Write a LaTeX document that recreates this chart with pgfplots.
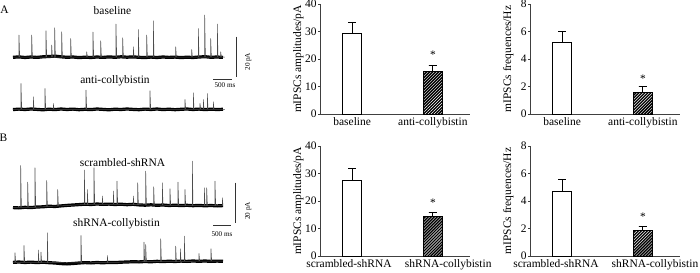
\documentclass[border=0pt]{standalone}
\usepackage{fontspec}
\setmainfont{Liberation Serif}
\usepackage{pgfplots}
\pgfplotsset{compat=1.18}
\usepackage{pgfplotstable}
\usetikzlibrary{patterns}

% baseline (noise band) of the four traces, in pixel coordinates of the reference
\pgfplotstableread{
x   a1   a2    b1    b2
13  57.3 109.6 207.6 262.4
19  56.9 109.1 207.9 262.0
25  57.5 109.5 207.3 262.5
31  57.0 109.0 207.6 262.1
37  57.4 109.4 207.0 262.6
43  56.8 109.8 206.8 262.2
49  56.5 109.2 206.2 262.7
55  56.1 109.6 206.5 263.0
61  56.8 109.0 205.9 263.6
67  57.3 109.5 205.4 263.9
73  57.0 109.1 205.0 263.5
79  57.6 109.7 204.6 263.0
85  57.2 109.3 204.2 262.6
91  57.5 109.6 204.5 262.9
97  57.0 109.0 204.0 262.5
103 57.4 109.4 204.4 262.8
109 56.9 109.8 204.1 262.4
115 57.3 109.2 204.5 262.6
121 56.8 109.5 204.2 262.2
127 57.2 109.0 204.7 262.0
133 56.9 109.4 204.3 261.7
139 57.3 109.7 204.9 261.9
145 57.6 109.1 205.2 261.5
151 57.1 109.5 204.8 261.8
157 57.5 109.0 205.3 261.3
163 57.0 109.6 205.0 261.6
169 57.4 109.2 205.5 261.2
175 57.1 109.7 205.2 261.5
181 57.6 109.3 205.6 261.1
187 57.2 109.0 205.3 261.4
193 57.5 109.5 205.7 261.0
199 57.0 109.1 205.4 261.3
205 56.7 109.6 205.8 261.0
211 57.3 109.2 205.5 261.4
217 57.0 109.5 205.9 261.1
223 57.4 109.3 205.6 261.3
}\basetab

\pgfplotsset{
  barax/.style={
    scale only axis, anchor=south west,
    width=149.3bp, height=110bp,
    xmin=-0.39, xmax=1.46, ymin=0,
    axis lines=left,
    axis line style={-, black!75, line width=0.8bp},
    tick align=outside, major tick length=2.5bp,
    ytick style={black!75, line width=0.8bp},
    xtick style={draw=none},
    /pgf/number format/assume math mode=true,
    yticklabel style={inner sep=1.5bp},
    xticklabel style={inner sep=1.2bp},
    ylabel style={at={(axis description cs:-0.15,0.5)}, anchor=center},
    font=\fontsize{11.5}{13.5}\selectfont,
    clip=false,
  },
  whitebar/.style={draw=black, line width=0.8bp, fill=white, ybar, bar width=19bp, bar shift=0pt},
  hatchbar/.style={draw=black, line width=0.8bp, fill=black,
    postaction={pattern=north east lines, pattern color=white},
    ybar, bar width=19bp, bar shift=0pt},
  errline/.style={black, line width=0.8bp, mark=none},
}

\begin{document}
\begin{tikzpicture}[font=\fontsize{11.5}{13.5}\selectfont]
\useasboundingbox (0,0) rectangle (700bp,273bp);

% ---------------- traces (pixel coordinates, y downwards) ----------------
\begin{axis}[at={(0,0)}, anchor=south west, scale only axis,
  width=260bp, height=273bp, xmin=0, xmax=260, ymin=0, ymax=273,
  y dir=reverse, hide axis, clip=false, no markers]
  % noise bands
  \addplot[black, line width=3.2bp, line join=round] table[x=x, y=a1] {\basetab};
  \addplot[black, line width=3.2bp, line join=round] table[x=x, y=a2] {\basetab};
  \addplot[black, line width=3.2bp, line join=round] table[x=x, y=b1] {\basetab};
  \addplot[black, line width=3.2bp, line join=round] table[x=x, y=b2] {\basetab};
  % events, baseline
  \addplot[black!70, line width=0.5bp] coordinates {
    (13,57.1)
    (19,57.1)(19,35)(19.7,57.1)
    (31.7,57.1)(31.7,35)(32.4,57.1)
    (46,57.1)(46,30.7)(46.7,57.1)
    (51.7,57.1)(51.7,45)(52.4,57.1)
    (54.7,57.1)(54.7,27.7)(55.4,57.1)
    (61.7,57.1)(61.7,31.7)(62.4,57.1)
    (70.7,57.1)(70.7,38.3)(71.4,57.1)
    (86.7,57.1)(86.7,51.7)(87.4,57.1)
    (93,57.1)(93,32)(93.7,57.1)
    (100.7,57.1)(100.7,40.7)(101.4,57.1)
    (116,57.1)(116,24)(116.7,57.1)
    (122.7,57.1)(122.7,37.7)(123.4,57.1)
    (133.3,57.1)(133.3,46.7)(134,57.1)
    (138.3,57.1)(138.3,29.3)(139,57.1)
    (146.7,57.1)(146.7,35)(147.4,57.1)
    (153.3,57.1)(153.3,20.7)(154,57.1)
    (175.7,57.1)(175.7,46.7)(176.4,57.1)
    (191.7,57.1)(191.7,49.3)(192.4,57.1)
    (198.3,57.1)(198.3,28.3)(199,57.1)
    (204.7,57.1)(204.7,15)(205.4,57.1)
    (210.7,57.1)(210.7,38.3)(211.4,57.1)
    (217.3,57.1)(217.3,24)(218,57.1)
    (220.7,57.1)(220.7,51.7)(221.4,57.1)
    (225,57.1)};
  % events, anti-collybistin
  \addplot[black!70, line width=0.5bp] coordinates {
    (13,109.4)
    (21,109.4)(21,83.3)(21.7,109.4)
    (33.3,109.4)(33.3,96.7)(34,109.4)
    (45,109.4)(45,88.3)(45.7,109.4)
    (53.3,109.4)(53.3,103.3)(54,109.4)
    (86,109.4)(86,90)(86.7,109.4)
    (150,109.4)(150,90.7)(150.7,109.4)
    (185,109.4)(185,99.3)(185.7,109.4)
    (193.3,109.4)(193.3,92.7)(194,109.4)
    (200,109.4)(200,103.3)(200.7,109.4)
    (203.3,109.4)(203.3,99.3)(204,109.4)
    (207.3,109.4)(207.3,93.3)(208,109.4)
    (213.3,109.4)(213.3,101.7)(214,109.4)
    (225,109.4)};
  % events, scrambled-shRNA
  \addplot[black!70, line width=0.5bp] coordinates {
    (13,207.3)
    (20.7,207.3)(20.7,165.3)(21.4,207.3)
    (27.7,207.3)(27.7,182)(28.4,207.3)
    (35,207.3)(35,167.7)(35.7,207.3)
    (46.7,206.5)(46.7,180.3)(47.4,206.5)
    (57.7,206)(57.7,189.3)(58.4,206)
    (84.3,204.5)(84.3,170)(85,204.5)
    (87.3,204.5)(87.3,189.3)(88,204.5)
    (94,204.3)(94,167.7)(94.7,204.3)
    (102.3,204.3)(102.3,196)(103,204.3)
    (113.3,204.3)(113.3,191)(114,204.3)
    (117,204.3)(117,181)(117.7,204.3)
    (133.3,204.5)(133.3,196)(134,204.5)
    (137.7,204.6)(137.7,182.7)(138.4,204.6)
    (145.7,205)(145.7,171)(146.4,205)
    (153.7,205.2)(153.7,186.7)(154.4,205.2)
    (162.3,205.2)(162.3,182.7)(163,205.2)
    (170,205.4)(170,188.7)(170.7,205.4)
    (178,205.4)(178,182)(178.7,205.4)
    (185,205.5)(185,189.3)(185.7,205.5)
    (192.3,205.5)(192.3,161)(193,205.5)
    (204.3,205.6)(204.3,187.7)(205,205.6)
    (206.7,205.6)(206.7,187.7)(207.4,205.6)
    (215,205.7)(215,181)(215.7,205.7)
    (222.3,205.7)(222.3,197.7)(223,205.7)};
  % events, shRNA-collybistin
  \addplot[black!70, line width=0.5bp] coordinates {
    (13,262.3)
    (15,262.3)(15,252.7)(15.7,262.3)
    (24,262.3)(24,245.3)(24.7,262.3)
    (38.3,262.5)(38.3,250)(39,262.5)
    (41,262.5)(41,252)(41.7,262.5)
    (47.3,262.6)(47.3,232.7)(48,262.6)
    (81,262.9)(81,235.3)(81.7,262.9)
    (107.3,262.5)(107.3,255.3)(108,262.5)
    (144,261.7)(144,242)(144.7,261.7)
    (145.7,261.7)(145.7,244.3)(146.4,261.7)
    (160.7,261.6)(160.7,238.7)(161.4,261.6)
    (175.7,261.5)(175.7,246)(176.4,261.5)
    (180.3,261.4)(180.3,248.7)(181,261.4)
    (184.3,261.3)(184.3,236)(185,261.3)
    (199,261.2)(199,253.3)(199.7,261.2)
    (211,261.2)(211,248.7)(211.7,261.2)
    (223,261.2)};
  % scale bars
  \addplot[black!80, line width=0.8bp] coordinates {(236,36.7)(236,76.7)};
  \addplot[black!80, line width=0.8bp] coordinates {(213.3,79.3)(232.3,79.3)};
  \addplot[black!80, line width=0.8bp] coordinates {(235,182.7)(235,223.3)};
  \addplot[black!80, line width=0.8bp] coordinates {(213.3,225.3)(230.7,225.3)};
  % texts
  \node[anchor=base] at (axis cs:4.5,13.3) {A};
  \node[anchor=base] at (axis cs:112.5,15) {baseline};
  \node[anchor=base] at (axis cs:115,83.3) {anti-collybistin};
  \node[anchor=base] at (axis cs:3.5,141.7) {B};
  \node[anchor=base] at (axis cs:122.5,166) {scrambled-shRNA};
  \node[anchor=base] at (axis cs:116.5,226) {shRNA-collybistin};
  \node[anchor=base, font=\fontsize{7.2}{8}\selectfont] at (axis cs:225,87.3) {500 ms};
  \node[anchor=base, font=\fontsize{7.2}{8}\selectfont] at (axis cs:222,236.7) {500 ms};
  \node[rotate=90, font=\fontsize{7.2}{8}\selectfont] at (axis cs:248.3,61.7) {20 pA};
  \node[rotate=90, font=\fontsize{7.2}{8}\selectfont] at (axis cs:248.3,211) {20 pA};
\end{axis}

% ---------------- A: amplitudes ----------------
\begin{axis}[barax, at={(320.7bp,159bp)}, ymax=40, ytick={0,10,20,30,40},
  xtick={0,1}, xticklabels={baseline,anti-collybistin}, ylabel={mIPSCs amplitudes/pA}]
  \addplot[whitebar] coordinates {(0,29.3)};
  \addplot[hatchbar] coordinates {(1,15.5)};
  \addplot[errline] coordinates {(0,29.3)(0,33.2)(-0.05,33.2)(0.05,33.2)};
  \addplot[errline] coordinates {(1,15.5)(1,17.7)(0.95,17.7)(1.05,17.7)};
  \node at (axis cs:1,21.5) {*};
\end{axis}

% ---------------- A: frequencies ----------------
\begin{axis}[barax, at={(530.7bp,159bp)}, ymax=8, ytick={0,2,4,6,8},
  xtick={0,1}, xticklabels={baseline,anti-collybistin}, ylabel={mIPSCs frequences/Hz}]
  \addplot[whitebar] coordinates {(0,5.21)};
  \addplot[hatchbar] coordinates {(1,1.58)};
  \addplot[errline] coordinates {(0,5.21)(0,6.04)(-0.05,6.04)(0.05,6.04)};
  \addplot[errline] coordinates {(1,1.58)(1,1.99)(0.95,1.99)(1.05,1.99)};
  \node at (axis cs:1,2.55) {*};
\end{axis}

% ---------------- B: amplitudes ----------------
\begin{axis}[barax, at={(320.7bp,17bp)}, ymax=40, ytick={0,10,20,30,40},
  xtick={-0.04,1.19}, xticklabels={scrambled-shRNA,shRNA-collybistin}, ylabel={mIPSCs amplitudes/pA}]
  \addplot[whitebar] coordinates {(0,27.6)};
  \addplot[hatchbar] coordinates {(1,14.5)};
  \addplot[errline] coordinates {(0,27.6)(0,31.7)(-0.05,31.7)(0.05,31.7)};
  \addplot[errline] coordinates {(1,14.5)(1,15.7)(0.95,15.7)(1.05,15.7)};
  \node at (axis cs:1,19.4) {*};
\end{axis}

% ---------------- B: frequencies ----------------
\begin{axis}[barax, at={(530.7bp,17bp)}, ymax=8, ytick={0,2,4,6,8},
  xtick={-0.077,1.15}, xticklabels={scrambled-shRNA,shRNA-collybistin}, ylabel={mIPSCs frequences/Hz}]
  \addplot[whitebar] coordinates {(0,4.7)};
  \addplot[hatchbar] coordinates {(1,1.84)};
  \addplot[errline] coordinates {(0,4.7)(0,5.55)(-0.05,5.55)(0.05,5.55)};
  \addplot[errline] coordinates {(1,1.84)(1,2.16)(0.95,2.16)(1.05,2.16)};
  \node at (axis cs:1,2.84) {*};
\end{axis}
\end{tikzpicture}
\end{document}
